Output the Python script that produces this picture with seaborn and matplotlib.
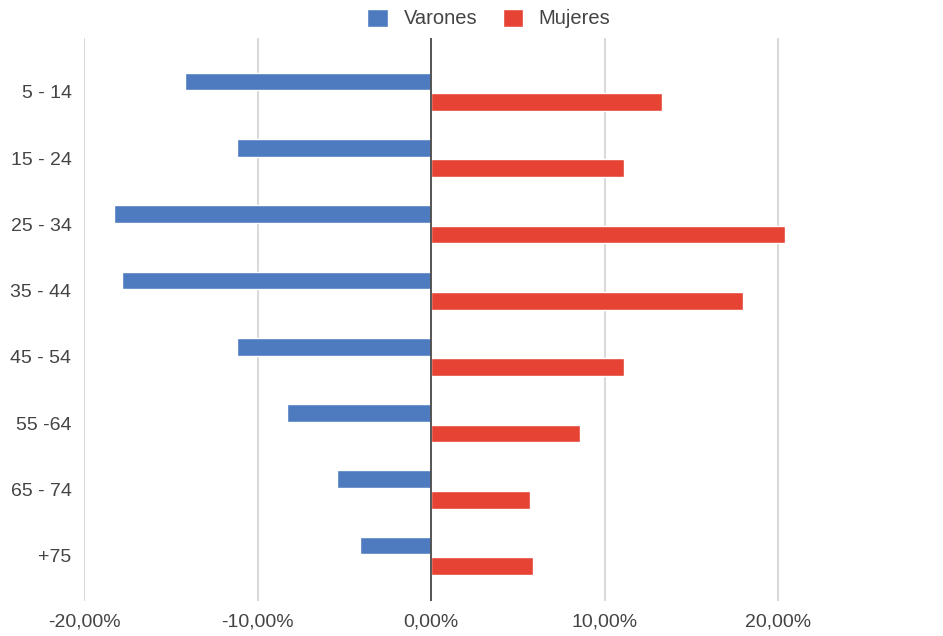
import matplotlib
matplotlib.use("Agg")
import matplotlib.pyplot as plt
from matplotlib.ticker import FuncFormatter
import seaborn as sns
import pandas as pd

# Age groups and share of population (%) by sex
grupos = ["5 - 14", "15 - 24", "25 - 34", "35 - 44", "45 - 54", "55 -64", "65 - 74", "+75"]
varones = [14.2, 11.2, 18.3, 17.8, 11.2, 8.3, 5.4, 4.1]
mujeres = [13.3, 11.1, 20.4, 18.0, 11.1, 8.6, 5.7, 5.9]
series = ["Varones", "Mujeres"]
xticks = [-20, -10, 0, 10, 20]

df = pd.DataFrame({
    "Grupo": grupos * 2,
    "Valor": [-v for v in varones] + mujeres,
    "Sexo": [series[0]] * len(grupos) + [series[1]] * len(grupos),
})

sns.set_theme(style="white")
plt.rcParams["font.family"] = ["Liberation Sans", "DejaVu Sans"]

fig = plt.figure(figsize=(9.43, 6.36), dpi=100)
ax = fig.add_axes([84 / 943, 35 / 636, (943 - 84) / 943, (601 - 38) / 636])

palette = {"Varones": "#4e7bc0", "Mujeres": "#e64334"}
sns.barplot(data=df, y="Grupo", x="Valor", hue="Sexo", hue_order=series,
            order=grupos, orient="h", palette=palette, dodge=True,
            width=0.62, gap=0.14, saturation=1, ax=ax, errorbar=None)

ax.set_xlim(-20, 29.5)
ax.set_ylim(7.68, -0.81)
ax.set_xticks(xticks)
ax.xaxis.set_major_formatter(FuncFormatter(lambda v, p: f"{v:.2f}".replace(".", ",") + "%"))
ax.grid(axis="x", color="#dadada", linewidth=1.5)
ax.set_axisbelow(True)
ax.axvline(0, color="#4a4a4a", linewidth=1.3, zorder=3)
for s in ax.spines.values():
    s.set_visible(False)
ax.tick_params(axis="both", length=0, labelsize=14, colors="#444444")
ax.tick_params(axis="x", pad=9)
ax.tick_params(axis="y", pad=9)
ax.set_xlabel("")
ax.set_ylabel("")

sns.move_legend(ax, "center", ncol=2, frameon=False, title=None, fontsize=14.5,
                handlelength=1.0, handleheight=1.0, columnspacing=1.25, handletextpad=0.8)
leg = ax.get_legend()
leg.set_bbox_to_anchor((489 / 943, 1 - 18.5 / 636), transform=fig.transFigure)
for t in leg.get_texts():
    t.set_color("#444444")

fig.savefig("out.png", dpi=100)
